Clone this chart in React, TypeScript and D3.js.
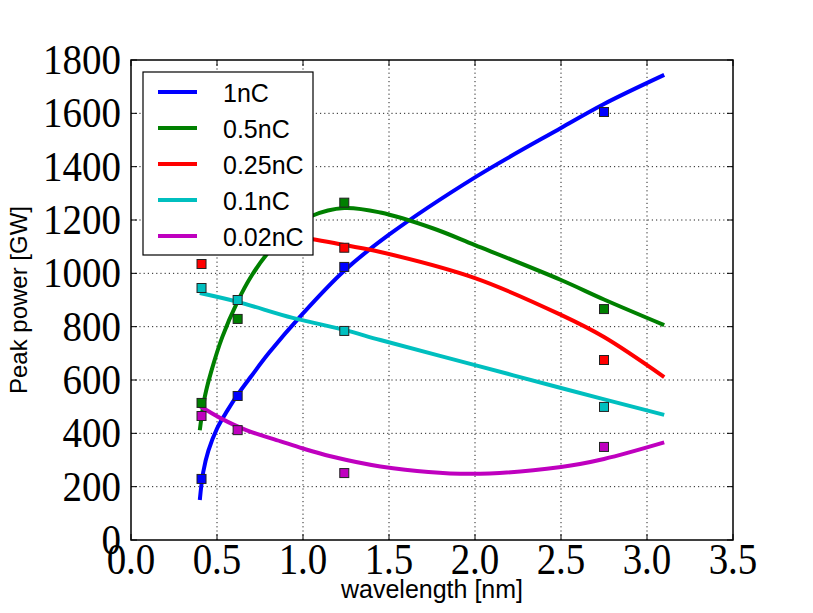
import React, { useEffect, useRef } from "react";
import * as d3 from "d3";

// measured points (wavelength in nm, peak power in GW)
const wavelengths = [0.41, 0.62, 1.24, 2.75];
const power1nC = [229, 540, 1024, 1605];
const power05nC = [514, 829, 1265, 866];
const power025nC = [1035, 1150, 1096, 675];
const power01nC = [945, 900, 784, 499];
const power002nC = [465, 412, 251, 349];

// fitted curves
const fitX1nC = [0.4, 0.42, 0.45, 0.5, 0.56, 0.62, 0.7, 0.8, 1.0, 1.24, 1.5, 2.0, 2.5, 2.75, 3.1];
const fit1nC = [150, 255, 335, 418, 485, 545, 615, 700, 850, 1010, 1145, 1360, 1545, 1635, 1744];
const fitX05nC = [0.4, 0.43, 0.47, 0.53, 0.62, 0.7, 0.8, 0.92, 1.05, 1.24, 1.45, 1.75, 2.0, 2.5, 2.75, 3.1];
const fit05nC = [412, 540, 640, 760, 895, 990, 1080, 1160, 1215, 1245, 1228, 1170, 1106, 975, 902, 806];
const fitX025nC = [0.4, 0.6, 0.8, 1.05, 1.24, 1.45, 2.0, 2.5, 2.75, 3.1];
const fit025nC = [1150, 1160, 1150, 1129, 1106, 1080, 982, 844, 761, 611];
const fitX01nC = [0.4, 0.62, 0.94, 1.24, 1.45, 2.0, 2.5, 3.1];
const fit01nC = [926, 893, 833, 788, 750, 656, 570, 469];
const fitX002nC = [0.39, 0.52, 0.67, 0.87, 1.0, 1.16, 1.45, 1.97, 2.5, 2.75, 3.1];
const fit002nC = [506, 457, 412, 370, 343, 314, 276, 248, 274, 304, 366];

const seriesNames = ["1nC", "0.5nC", "0.25nC", "0.1nC", "0.02nC"];
const seriesColors = ["#0000ff", "#008000", "#ff0000", "#00bfbf", "#bf00bf"];

const xTicks = [0, 0.5, 1.0, 1.5, 2.0, 2.5, 3.0, 3.5];
const xTickLabels = ["0.0", "0.5", "1.0", "1.5", "2.0", "2.5", "3.0", "3.5"];
const yTicks = [0, 200, 400, 600, 800, 1000, 1200, 1400, 1600, 1800];

const App = () => {
    const svgRef = useRef<SVGSVGElement>(null);

    useEffect(() => {
        if (!svgRef.current) return;
        const root = d3.select(svgRef.current);
        root.selectAll("*").remove();

        const width = 813;
        const height = 613;
        const margin = { top: 60, right: 80, bottom: 73, left: 131 };

        const x = d3.scaleLinear().domain([0, 3.5]).range([margin.left, width - margin.right]);
        const y = d3.scaleLinear().domain([0, 1800]).range([height - margin.bottom, margin.top]);

        const series = [
            { pts: power1nC, fx: fitX1nC, fy: fit1nC },
            { pts: power05nC, fx: fitX05nC, fy: fit05nC },
            { pts: power025nC, fx: fitX025nC, fy: fit025nC },
            { pts: power01nC, fx: fitX01nC, fy: fit01nC },
            { pts: power002nC, fx: fitX002nC, fy: fit002nC },
        ].map((s, i) => ({ ...s, name: seriesNames[i], color: seriesColors[i] }));

        const svg = root.attr("width", width).attr("height", height);
        svg.append("rect").attr("width", width).attr("height", height).attr("fill", "#fff");

        // dotted grid
        const grid = svg.append("g").attr("stroke", "#222").attr("stroke-width", 1).attr("stroke-dasharray", "1.2,3");
        grid.selectAll(".gx").data(xTicks.slice(1, -1)).enter().append("line")
            .attr("x1", d => x(d)).attr("x2", d => x(d))
            .attr("y1", y(0)).attr("y2", y(1800));
        grid.selectAll(".gy").data(yTicks.slice(1, -1)).enter().append("line")
            .attr("x1", x(0)).attr("x2", x(3.5))
            .attr("y1", d => y(d)).attr("y2", d => y(d));

        // fitted lines
        const line = d3.line<[number, number]>()
            .x(d => x(d[0]))
            .y(d => y(d[1]))
            .curve(d3.curveCatmullRom.alpha(0.5));
        series.forEach(s => {
            svg.append("path")
                .datum(s.fx.map((v, i) => [v, s.fy[i]] as [number, number]))
                .attr("d", line)
                .attr("fill", "none")
                .attr("stroke", s.color)
                .attr("stroke-width", 4);
        });

        // measured squares
        series.forEach(s => {
            svg.selectAll(null).data(s.pts).enter().append("rect")
                .attr("x", (d, i) => x(wavelengths[i]) - 4.5)
                .attr("y", d => y(d) - 4.5)
                .attr("width", 9)
                .attr("height", 9)
                .attr("fill", s.color)
                .attr("stroke", "#222")
                .attr("stroke-width", 1);
        });

        // frame and inward ticks
        svg.append("rect")
            .attr("x", x(0)).attr("y", y(1800))
            .attr("width", x(3.5) - x(0)).attr("height", y(0) - y(1800))
            .attr("fill", "none").attr("stroke", "#000").attr("stroke-width", 1.5);
        const ticks = svg.append("g").attr("stroke", "#000").attr("stroke-width", 1);
        yTicks.forEach(t => {
            ticks.append("line").attr("x1", x(0)).attr("x2", x(0) + 6).attr("y1", y(t)).attr("y2", y(t));
            ticks.append("line").attr("x1", x(3.5)).attr("x2", x(3.5) - 6).attr("y1", y(t)).attr("y2", y(t));
        });
        xTicks.forEach(t => {
            ticks.append("line").attr("x1", x(t)).attr("x2", x(t)).attr("y1", y(0)).attr("y2", y(0) - 6);
            ticks.append("line").attr("x1", x(t)).attr("x2", x(t)).attr("y1", y(1800)).attr("y2", y(1800) + 6);
        });

        // tick labels (tall, thin serif digits)
        const tickFont = "'Liberation Serif', 'DejaVu Serif', serif";
        svg.selectAll(".ytl").data(yTicks).enter().append("text")
            .attr("transform", d => `translate(${x(0) - 10},${y(d) + 14}) scale(1,1.1)`)
            .attr("text-anchor", "end")
            .style("font-family", tickFont)
            .style("font-size", "39px")
            .style("font-weight", "300")
            .text(d => String(d));
        svg.selectAll(".xtl").data(xTicks).enter().append("text")
            .attr("transform", d => `translate(${x(d)},${y(0) + 34}) scale(1,1.12)`)
            .attr("text-anchor", "middle")
            .style("font-family", tickFont)
            .style("font-size", "39px")
            .style("font-weight", "300")
            .text((d, i) => xTickLabels[i]);

        // axis titles
        const sans = "'Liberation Sans', Arial, sans-serif";
        svg.append("text")
            .attr("x", (x(0) + x(3.5)) / 2)
            .attr("y", 598)
            .attr("text-anchor", "middle")
            .style("font-family", sans)
            .style("font-size", "25px")
            .text("wavelength [nm]");
        svg.append("text")
            .attr("transform", "translate(27,300) rotate(-90)")
            .attr("text-anchor", "middle")
            .style("font-family", sans)
            .style("font-size", "24px")
            .text("Peak power [GW]");

        // legend
        const legend = svg.append("g").attr("transform", "translate(143,72)");
        legend.append("rect")
            .attr("width", 170).attr("height", 183)
            .attr("fill", "#fff").attr("stroke", "#000").attr("stroke-width", 1.2);
        series.forEach((s, i) => {
            const ly = 20 + i * 36;
            legend.append("line")
                .attr("x1", 15).attr("x2", 54)
                .attr("y1", ly).attr("y2", ly)
                .attr("stroke", s.color).attr("stroke-width", 4);
            legend.append("text")
                .attr("x", 80).attr("y", ly + 10)
                .style("font-family", sans)
                .style("font-size", "25px")
                .text(s.name);
        });
    }, []);

    return (
        <svg ref={svgRef} style={{ position: "absolute", left: 0, top: 0 }}></svg>
    );
};

export default App;
